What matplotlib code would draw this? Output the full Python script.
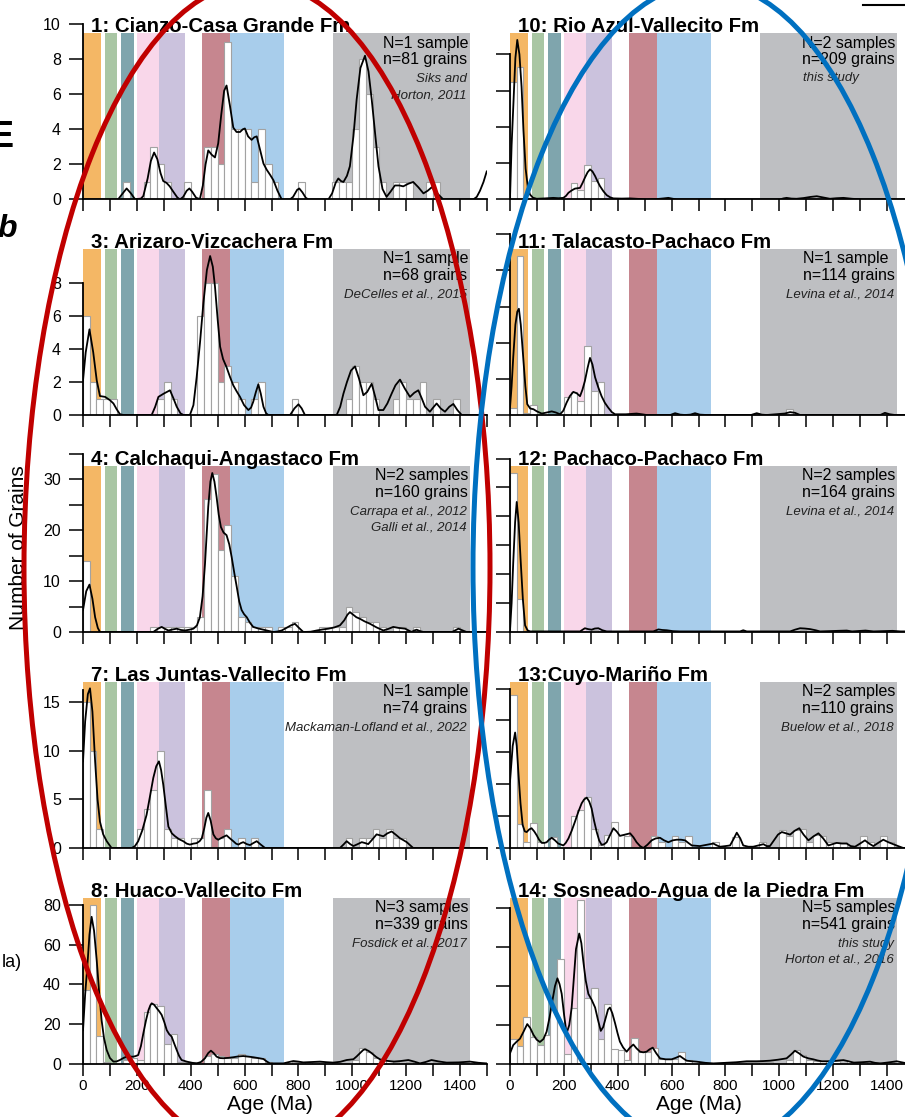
import matplotlib
matplotlib.use("Agg")
import matplotlib.pyplot as plt
from matplotlib.patches import Ellipse

plt.rcParams["font.family"] = ["Liberation Sans", "DejaVu Sans"]

W, H = 905, 1117

# shaded age provinces (Ma)
band_ranges = [(0, 66), (80, 128), (142, 190), (202, 283), (283, 380),
               (442, 546), (546, 745), (930, 1438)]
band_colors = ["#f4b765", "#a9c6a4", "#7fa5ad", "#f9d7ea", "#cbc2dd",
               "#c6868f", "#a8cdeb", "#bebfc2"]

# histograms: (bin start Ma, count), 25 Ma bins
hist_1 = [(150, 1), (225, 1), (250, 3), (275, 2), (300, 1), (375, 1), (450, 3), (475, 3),
          (500, 2), (525, 9), (550, 4), (575, 4), (600, 4), (625, 1), (650, 4), (675, 2),
          (700, 1), (800, 1), (925, 1), (950, 1), (975, 1), (1000, 4), (1025, 8), (1050, 6),
          (1075, 3), (1100, 1), (1150, 1), (1175, 1), (1200, 1), (1275, 1), (1300, 1)]
hist_3 = [(0, 6), (25, 2), (50, 1), (75, 1), (100, 1), (275, 1), (300, 2), (325, 1),
          (425, 6), (450, 8), (475, 8), (500, 2), (525, 3), (550, 2), (575, 1), (625, 1),
          (650, 2), (775, 1), (975, 1), (1000, 3), (1025, 2), (1050, 2), (1075, 1), (1150, 1),
          (1175, 2), (1200, 1), (1225, 1), (1250, 2), (1300, 1), (1375, 1)]
hist_4 = [(0, 14), (250, 1), (275, 1), (300, 1), (325, 1), (350, 1), (375, 1), (400, 1),
          (425, 3), (450, 26), (475, 31), (500, 16), (525, 21), (550, 11), (575, 3), (600, 2),
          (625, 1), (650, 1), (675, 1), (725, 1), (750, 1), (775, 2), (875, 1), (900, 1),
          (925, 1), (950, 1), (975, 5), (1000, 4), (1025, 3), (1050, 2), (1075, 2), (1100, 1),
          (1150, 1), (1175, 1), (1225, 1), (1375, 1)]
hist_7 = [(0, 15), (25, 10), (50, 2), (200, 2), (225, 4), (250, 6), (275, 10), (300, 2),
          (325, 1), (350, 1), (400, 1), (425, 1), (450, 6), (500, 1), (525, 2), (575, 1),
          (625, 1), (975, 1), (1025, 1), (1050, 1), (1075, 2), (1100, 1), (1125, 2),
          (1150, 1), (1175, 1)]
hist_8 = [(0, 37), (25, 80), (50, 14), (75, 1), (150, 2), (175, 3), (200, 2), (225, 26),
          (250, 30), (275, 29), (300, 10), (325, 15), (350, 1), (375, 1), (400, 1), (450, 4),
          (475, 5), (500, 4), (525, 3), (550, 3), (575, 5), (600, 4), (625, 3), (650, 3),
          (675, 1), (775, 1), (800, 1), (825, 1), (850, 1), (875, 1), (900, 1), (1000, 2),
          (1025, 8), (1050, 6), (1075, 3), (1100, 2), (1125, 2), (1150, 1), (1200, 1),
          (1300, 1), (1375, 1), (1450, 1)]
hist_10 = [(0, 65), (25, 73), (50, 1), (225, 9), (250, 5), (275, 19), (300, 10), (325, 12)]
hist_11 = [(0, 0.9), (25, 22), (50, 0.3), (75, 1.4), (200, 2.5), (225, 3.2), (250, 1.9),
           (275, 9.5), (300, 3.3), (325, 4.5), (1025, 0.8)]
hist_12 = [(0, 55), (25, 11.5), (50, 0.3), (275, 0.5), (300, 0.6), (325, 0.5), (500, 0.3),
           (550, 0.3), (1050, 0.5), (1075, 0.6), (1100, 0.4)]
hist_13 = [(0, 24), (25, 3.8), (50, 0.9), (75, 3.9), (100, 0.9), (150, 1.8), (225, 5),
           (250, 6), (275, 8), (300, 3), (325, 0.4), (350, 2), (375, 4.1), (400, 2),
           (425, 1.9), (525, 1.9), (550, 0.9), (600, 1.9), (625, 0.9), (650, 1.9), (750, 0.9),
           (825, 1.7), (925, 0.9), (1000, 2.9), (1025, 1.9), (1050, 2.8), (1075, 3),
           (1100, 0.9), (1125, 2), (1150, 1.9), (1175, 0.9), (1200, 0.9), (1225, 0.9),
           (1300, 1.9), (1325, 0.9), (1375, 1.9), (1400, 0.9)]
hist_14 = [(0, 13), (25, 9), (50, 24), (75, 14), (100, 10), (125, 15), (150, 29), (175, 54),
           (200, 5), (225, 29), (250, 84), (275, 34), (300, 39), (325, 13), (350, 31),
           (375, 7.5), (400, 7), (425, 2), (450, 13.5), (475, 6), (500, 6), (525, 8),
           (550, 2.4), (575, 2.4), (600, 2.4), (625, 6), (650, 2), (675, 1.5), (700, 0.7),
           (725, 0.7), (750, 0.7), (800, 1), (825, 1), (850, 1), (875, 1), (900, 1), (925, 1),
           (950, 1), (1025, 2), (1050, 7), (1075, 4.6), (1100, 2), (1125, 1.5), (1150, 1.5),
           (1175, 1.5), (1200, 1.5), (1250, 1.5), (1300, 1), (1350, 1), (1400, 1), (1450, 1)]

# density curves: (age Ma, value)
kde_1 = [(0, 0), (125, 0), (131, 0.02), (145, 0.3), (162, 0.63), (178, 0.35), (193, 0.02),
         (215, 0.05), (224, 0.2), (240, 1.2), (252, 2.2), (264, 2.68), (276, 2.3), (288, 1.5),
         (298, 1.05), (310, 0.95), (322, 0.75), (335, 0.45), (350, 0.12), (360, 0), (372, 0.15),
         (385, 0.5), (395, 0.63), (405, 0.45), (420, 0.1), (434, 0.02), (445, 0.8), (455, 2.0),
         (465, 2.8), (478, 2.55), (490, 2.4), (502, 3.2), (513, 4.8), (524, 6.2), (533, 6.5),
         (545, 5.4), (558, 4.1), (570, 3.85), (583, 3.85), (593, 4.0), (601, 4.05), (613, 3.6),
         (626, 3.4), (636, 3.55), (645, 3.6), (658, 2.8), (670, 2.05), (682, 1.7), (695, 1.4),
         (707, 1.1), (722, 0.5), (738, 0), (768, 0), (780, 0.15), (795, 0.55), (803, 0.63),
         (815, 0.4), (827, 0.1), (837, 0), (911, 0), (925, 0.35), (938, 0.95), (948, 1.2),
         (958, 1.05), (967, 1.0), (980, 1.35), (991, 1.9), (1004, 3.6), (1016, 5.7),
         (1030, 7.5), (1047, 8.2), (1060, 7.3), (1072, 5.7), (1085, 3.7), (1097, 1.9),
         (1112, 0.6), (1127, 0.15), (1142, 0.45), (1158, 0.8), (1175, 0.8), (1189, 0.75),
         (1208, 0.9), (1226, 1.0), (1245, 0.7), (1264, 0.35), (1280, 0.5), (1295, 0.7),
         (1315, 0.35), (1338, 0), (1449, 0), (1462, 0.15), (1474, 0.5), (1487, 1.0), (1499, 1.6)]
kde_3 = [(0, 2.1), (10, 3.8), (24, 5.2), (38, 3.8), (51, 2.1), (63, 1.15), (82, 1.1),
         (100, 0.9), (113, 0.7), (125, 0.35), (137, 0.05), (150, 0), (255, 0), (268, 0.5),
         (280, 1.1), (300, 1.3), (323, 1.5), (336, 1.0), (348, 0.5), (362, 0.1), (373, 0),
         (397, 0), (410, 0.6), (422, 2.3), (435, 4.5), (447, 6.8), (460, 8.8), (472, 9.65),
         (482, 9.0), (490, 7.8), (500, 5.8), (509, 4.15), (520, 3.4), (533, 2.9), (546, 2.3),
         (558, 1.8), (570, 1.45), (583, 1.1), (598, 0.6), (614, 0.3), (624, 0.45), (632, 0.8),
         (642, 1.4), (651, 1.86), (660, 1.3), (670, 0.5), (680, 0.1), (688, 0), (769, 0),
         (785, 0.4), (800, 0.65), (812, 0.4), (824, 0), (942, 0), (955, 0.5), (967, 1.3),
         (980, 2.0), (995, 2.7), (1010, 2.95), (1025, 2.2), (1041, 1.2), (1055, 1.4),
         (1072, 1.9), (1085, 1.1), (1097, 0.3), (1115, 0.3), (1130, 0.7), (1146, 1.3),
         (1160, 1.8), (1177, 2.15), (1195, 1.6), (1214, 1.1), (1230, 1.35), (1245, 1.5),
         (1258, 1.0), (1270, 0.5), (1288, 0.2), (1300, 0.45), (1313, 0.7), (1328, 0.4),
         (1344, 0.2), (1360, 0.5), (1375, 0.67), (1390, 0.3), (1406, 0), (1500, 0)]
kde_4 = [(0, 4.3), (12, 8.0), (24, 9.3), (35, 6.5), (45, 2.9), (55, 0.8), (63, 0), (261, 0),
         (277, 0.6), (292, 1.0), (305, 0.6), (317, 0.3), (333, 0.5), (348, 0.65), (363, 0.4),
         (379, 0.3), (395, 0.45), (410, 0.65), (423, 1.3), (434, 2.9), (444, 7.0), (453, 13.4),
         (465, 24.6), (473, 29.5), (480, 31.2), (488, 29.5), (496, 26.5), (504, 23.0),
         (512, 20.6), (522, 19.5), (533, 19.0), (543, 17.2), (552, 14.7), (562, 11.5),
         (571, 8.8), (580, 6.0), (589, 4.3), (598, 3.5), (608, 2.9), (620, 1.8), (632, 1.0),
         (650, 0.7), (670, 0.45), (690, 0.2), (707, 0), (722, 0.1), (738, 0.3), (755, 0.8),
         (772, 1.3), (787, 1.6), (802, 0.8), (818, 0), (845, 0.05), (868, 0.3), (890, 0.5),
         (911, 0.65), (933, 0.9), (954, 1.3), (970, 2.3), (982, 3.4), (991, 3.9), (1003, 3.4),
         (1015, 2.9), (1028, 2.6), (1045, 2.1), (1066, 1.6), (1090, 0.9), (1115, 0.3),
         (1133, 0.6), (1152, 1.0), (1172, 0.8), (1196, 0.65), (1220, 0), (1230, 0.3),
         (1239, 0.45), (1250, 0.2), (1264, 0), (1370, 0), (1383, 0.35), (1394, 0.65),
         (1410, 0.3), (1424, 0), (1500, 0)]
kde_7 = [(0, 8.9), (8, 13.0), (18, 15.8), (26, 16.4), (35, 14.0), (45, 8.9), (54, 5.0),
         (63, 2.7), (75, 1.4), (88, 0.7), (106, 0), (181, 0), (193, 0.2), (205, 0.7),
         (220, 1.8), (236, 3.4), (248, 5.2), (261, 7.2), (272, 8.4), (282, 8.9), (290, 8.0),
         (298, 6.5), (308, 4.2), (317, 2.2), (330, 1.5), (342, 1.2), (357, 0.9), (372, 0.7),
         (385, 0.45), (397, 0.35), (410, 0.45), (422, 0.5), (433, 0.7), (441, 1.0), (450, 2.0),
         (458, 3.1), (465, 3.6), (474, 2.8), (484, 1.4), (493, 1.0), (502, 0.85), (518, 1.1),
         (533, 1.3), (545, 1.0), (558, 0.7), (568, 0.45), (577, 0.35), (586, 0.5), (595, 0.6),
         (608, 0.4), (620, 0.3), (632, 0.5), (645, 0.7), (660, 0.35), (676, 0), (954, 0),
         (967, 0.35), (979, 0.7), (992, 0.4), (1004, 0.2), (1020, 0.4), (1035, 0.6),
         (1048, 0.5), (1059, 0.4), (1075, 0.9), (1090, 1.4), (1103, 1.3), (1115, 1.2),
         (1130, 1.5), (1146, 1.7), (1162, 1.35), (1177, 1.0), (1190, 0.8), (1202, 0.6),
         (1214, 0.3), (1226, 0), (1500, 0)]
kde_8 = [(0, 17), (8, 35), (16, 49), (24, 65), (32, 74), (41, 67), (51, 52), (60, 36),
         (69, 22), (78, 13), (88, 7), (100, 3), (113, 1.2), (125, 1.3), (137, 2), (150, 3),
         (162, 3.7), (175, 3.7), (187, 3.7), (196, 4), (205, 4.5), (215, 9), (224, 15.4),
         (234, 22), (243, 27), (250, 29.5), (255, 30.5), (264, 29.8), (274, 28), (283, 26.5),
         (292, 24.7), (302, 21), (311, 17), (320, 15), (329, 13.8), (338, 10.5), (348, 7),
         (357, 4), (366, 2), (385, 1.2), (405, 0.6), (422, 0.3), (438, 1.0), (453, 2.9),
         (465, 5.5), (475, 6.7), (485, 5.5), (496, 3.7), (508, 3.0), (521, 2.9), (540, 3.1),
         (558, 3.4), (576, 3.8), (595, 4.0), (614, 3.7), (632, 3.4), (650, 3.0), (670, 2.5),
         (682, 1.3), (694, 0.3), (744, 0.3), (762, 0.9), (781, 1.5), (800, 1.2), (818, 0.8),
         (850, 1.0), (880, 1.2), (905, 0.9), (929, 0.7), (955, 1.1), (979, 2.0), (1004, 2.4),
         (1016, 3.8), (1028, 5.4), (1040, 7.0), (1047, 7.4), (1060, 6.6), (1072, 5.4),
         (1088, 3.6), (1103, 2.3), (1128, 1.6), (1152, 1.2), (1180, 1.5), (1208, 2.0),
         (1230, 1.2), (1251, 0.3), (1272, 1.0), (1294, 2.0), (1320, 1.3), (1350, 0.7),
         (1395, 0.8), (1437, 1.2), (1468, 0.6), (1499, 0.3)]
kde_10 = [(0, 1), (6, 30), (13, 54), (20, 78), (27, 88), (35, 80), (43, 62), (50, 38),
          (58, 17), (66, 7), (74, 2.8), (85, 1), (99, 0.4), (130, 0.6), (161, 0.9), (180, 0.7),
          (198, 0.9), (208, 2), (217, 3.7), (229, 5), (241, 6), (250, 6.2), (260, 6.4),
          (269, 9), (278, 12), (288, 15), (297, 16.6), (306, 15.5), (316, 12.9), (325, 10),
          (334, 7.4), (347, 4.5), (359, 2.4), (372, 1.2), (384, 0.6), (415, 0.5), (446, 0.6),
          (480, 0.3), (507, 0), (550, 0.3), (570, 0.6), (588, 0.9), (605, 0.4), (619, 0),
          (1002, 0), (1015, 0.6), (1027, 0.9), (1045, 0.5), (1064, 0.4), (1090, 0.8),
          (1115, 1.4), (1139, 1.8), (1160, 1.2), (1188, 0.4), (1212, 0.7), (1238, 0.9),
          (1270, 0.4), (1312, 0), (1500, 0)]
kde_11 = [(0, 1), (6, 4), (12, 8), (20, 12.5), (27, 14.3), (33, 14.7), (40, 12.5), (50, 7.5),
          (57, 4), (64, 1.5), (75, 0.9), (87, 0.8), (100, 0.5), (118, 0.2), (137, 0.35),
          (155, 0.5), (170, 0.35), (186, 0.1), (198, 0.6), (210, 1.7), (222, 2.6), (235, 3.2),
          (248, 3.0), (260, 2.6), (269, 3.5), (278, 4.7), (288, 6.5), (297, 7.9), (306, 7.0),
          (316, 5.2), (328, 3.8), (340, 2.6), (352, 1.7), (365, 1.0), (378, 0.4), (390, 0.1),
          (430, 0.1), (470, 0.2), (490, 0.1), (507, 0), (595, 0), (613, 0.25), (632, 0.05),
          (650, 0), (670, 0.05), (687, 0.25), (705, 0.05), (730, 0), (895, 0), (916, 0.25),
          (935, 0.05), (953, 0), (1020, 0.2), (1040, 0.4), (1058, 0.3), (1077, 0), (1375, 0),
          (1392, 0.3), (1410, 0.1), (1429, 0), (1500, 0)]
kde_12 = [(0, 0.6), (6, 10), (12, 24), (19, 38), (25, 45), (32, 38), (40, 24), (48, 11),
          (56, 2.3), (65, 0.6), (74, 0.2), (260, 0.2), (278, 1.3), (290, 1.0), (303, 0.8),
          (315, 1.2), (328, 1.3), (343, 0.6), (359, 0.2), (532, 0.2), (551, 0.9), (565, 0.7),
          (582, 0.6), (605, 0.3), (631, 0.2), (854, 0.2), (866, 0.6), (879, 0.2), (1040, 0.2),
          (1058, 0.8), (1077, 1.3), (1095, 1.2), (1114, 1.0), (1135, 0.6), (1151, 0.2),
          (1250, 0.5), (1270, 0.2), (1320, 0.5), (1350, 0.2), (1420, 0.4), (1450, 0.2),
          (1500, 0.2)]
kde_13 = [(0, 10.4), (10, 16), (19, 18.1), (25, 16), (31, 11.9), (39, 7), (47, 3.6), (55, 2.6),
          (62, 2.5), (71, 2.9), (80, 3.1), (90, 2.6), (99, 2.0), (108, 1.3), (118, 0.8),
          (127, 0.8), (136, 0.9), (145, 1.3), (155, 1.6), (167, 1.2), (179, 0.7), (198, 0.4),
          (207, 0.8), (217, 1.5), (229, 2.7), (241, 4.1), (254, 5.7), (266, 7.0), (275, 7.6),
          (285, 7.9), (294, 7.3), (303, 6.2), (312, 4.3), (322, 2.5), (331, 1.2), (340, 0.5),
          (350, 0.6), (359, 0.9), (371, 2.0), (384, 3.1), (396, 2.6), (408, 1.9), (427, 2.1),
          (446, 2.3), (458, 1.7), (470, 0.9), (483, 0.3), (495, 0), (510, 0.5), (526, 1.2),
          (541, 1.5), (557, 1.6), (572, 1.2), (588, 0.9), (604, 1.2), (619, 1.3), (635, 1.3),
          (650, 1.2), (662, 0.8), (675, 0.4), (705, 0.3), (730, 0.5), (755, 0.7), (768, 0.4),
          (780, 0.2), (800, 0.3), (817, 0.4), (830, 1.4), (842, 2.4), (855, 1.5), (866, 0.4),
          (885, 0.2), (903, 0.2), (922, 0.4), (941, 0.6), (953, 0.3), (965, 0.3), (980, 1.2),
          (995, 2.1), (1009, 2.5), (1025, 2.3), (1040, 2.1), (1057, 2.7), (1074, 3.1),
          (1090, 2.1), (1108, 1.2), (1126, 1.8), (1145, 2.3), (1163, 1.5), (1182, 0.4),
          (1197, 0.6), (1213, 0.8), (1232, 0.7), (1250, 0.7), (1265, 0.3), (1281, 0.2),
          (1300, 0.7), (1318, 1.2), (1333, 0.7), (1349, 0.3), (1367, 0.8), (1386, 1.3),
          (1405, 0.9), (1423, 0.6), (1441, 0.3), (1460, 0), (1500, 0)]
kde_14 = [(0, 5.5), (12, 9.7), (25, 11.5), (37, 13), (50, 16.5), (64, 20.5), (75, 18.5),
          (87, 15), (99, 12.5), (111, 11.3), (124, 12.8), (136, 16.6), (147, 24), (158, 33),
          (167, 40), (176, 44), (184, 41), (192, 36), (201, 25), (210, 15.7), (220, 20),
          (229, 29), (237, 44), (245, 59), (257, 67), (265, 62), (272, 53), (281, 43),
          (291, 36), (303, 33), (316, 29), (326, 23), (337, 17), (346, 19), (356, 24),
          (364, 28), (371, 29), (380, 26), (390, 21), (399, 16), (408, 11.5), (420, 8.5),
          (433, 6.3), (446, 8.5), (458, 10), (470, 8), (483, 6.3), (495, 6), (507, 6.3),
          (518, 7.5), (530, 8.4), (543, 5.5), (557, 2.9), (578, 2.4), (600, 2.4), (616, 3.2),
          (631, 4.1), (644, 2.8), (656, 1.7), (675, 1.4), (693, 1.2), (725, 0.6), (755, 0.3),
          (800, 0.6), (840, 0.9), (879, 1.4), (916, 1.4), (940, 1.5), (965, 1.7), (995, 2.2),
          (1027, 2.9), (1042, 4.7), (1058, 6.8), (1073, 5.5), (1089, 3.8), (1108, 2.9),
          (1126, 2.4), (1142, 1.8), (1158, 1.4), (1180, 1.4), (1201, 1.5), (1220, 1.8),
          (1238, 2.0), (1257, 1.4), (1275, 0.7), (1305, 0.9), (1337, 1.2), (1355, 0.6),
          (1374, 0.3), (1405, 0.8), (1436, 1.4), (1467, 0.5), (1500, 0.5)]

titles_left = ["1: Cianzo-Casa Grande Fm", "3: Arizaro-Vizcachera Fm",
               "4: Calchaqui-Angastaco Fm", "7: Las Juntas-Vallecito Fm",
               "8: Huaco-Vallecito Fm"]
titles_right = ["10: Rio Azul-Vallecito Fm", "11: Talacasto-Pachaco Fm",
                "12: Pachaco-Pachaco Fm", "13:Cuyo-Mariño Fm",
                "14: Sosneado-Agua de la Piedra Fm"]
counts_left = ["N=1 sample\nn=81 grains", "N=1 sample\nn=68 grains",
               "N=2 samples\nn=160 grains", "N=1 sample\nn=74 grains",
               "N=3 samples\nn=339 grains"]
counts_right = ["N=2 samples\nn=209 grains", "N=1 sample\nn=114 grains",
                "N=2 samples\nn=164 grains", "N=2 samples\nn=110 grains",
                "N=5 samples\nn=541 grains"]
refs_left = ["Siks and\nHorton, 2011", "DeCelles et al., 2015",
             "Carrapa et al., 2012\nGalli et al., 2014", "Mackaman-Lofland et al., 2022",
             "Fosdick et al., 2017"]
refs_right = ["this study", "Levina et al., 2014", "Levina et al., 2014",
              "Buelow et al., 2018", "this study\nHorton et al., 2016"]

hists_left = [hist_1, hist_3, hist_4, hist_7, hist_8]
hists_right = [hist_10, hist_11, hist_12, hist_13, hist_14]
kdes_left = [kde_1, kde_3, kde_4, kde_7, kde_8]
kdes_right = [kde_10, kde_11, kde_12, kde_13, kde_14]

# y axis setup per panel: (ylim top, tick step, last tick, label step)
yaxis_left = [(10.55, 2, 10, 2), (11.23, 2, 8, 2), (36.3, 5, 35, 10),
              (19.0, 5, 15, 5), (93, 20, 80, 20)]
ybound_left = [10, 8, 35, 16.2, 80]
yaxis_right = [(102, 20, 80, 20), (25.6, 5, 25, 5), (64, 10, 60, 10),
               (29, 5, 25, 5), (95, 20, 80, 20)]

# layout in pixels
row_bottoms = [199.5, 415, 632, 848, 1064]
AX_H = 185
AX_W = 404
col_left = [83, 510]
BAND_TOP = 166 / AX_H


def fig_rect(x_px, bottom_px):
    return [x_px / W, 1 - bottom_px / H, AX_W / W, AX_H / H]


def draw_panel(ax, title, hist, kde, counts, refs, yax, ybound, show_ylabels,
               show_xlabels, ref_left=False):
    for (lo, hi), c in zip(band_ranges, band_colors):
        ax.axvspan(lo, hi, ymin=0, ymax=BAND_TOP, color=c, lw=0, zorder=0)
    ax.bar([h[0] for h in hist], [h[1] for h in hist], width=25, align="edge",
           color="white", edgecolor="#a2a2a2", linewidth=0.8, zorder=1)
    ax.plot([k[0] for k in kde], [k[1] for k in kde], color="black", lw=1.3, zorder=3)

    top, step, last, lab = yax
    ax.set_xlim(0, 1500)
    ax.set_ylim(0, top)
    for s in ["top", "right"]:
        ax.spines[s].set_visible(False)
    ax.spines["left"].set_bounds(0, ybound)
    ax.spines["left"].set_linewidth(1.3)
    ax.spines["bottom"].set_linewidth(1.3)

    yt = list(range(0, last + 1, step))
    ax.set_yticks(yt)
    if show_ylabels:
        ax.set_yticklabels([str(t) if t % lab == 0 else "" for t in yt])
    else:
        ax.set_yticklabels([])
    xt = list(range(0, 1501, 100))
    ax.set_xticks(xt)
    if show_xlabels:
        ax.set_xticklabels([str(t) if t % 200 == 0 else "" for t in xt])
    else:
        ax.set_xticklabels([])
    ax.tick_params(axis="y", direction="out", length=10, width=1.1, pad=6, labelsize=11.5)
    ax.tick_params(axis="x", direction="out", length=8.5, width=1.1, pad=2, labelsize=11)

    ax.annotate(title, xy=(0, BAND_TOP), xycoords="axes fraction", xytext=(5.5, 0.8),
                textcoords="offset points", fontsize=14.7, fontweight="bold",
                ha="left", va="baseline", zorder=5, annotation_clip=False)
    ax.annotate(counts, xy=(1430, BAND_TOP), xycoords=("data", "axes fraction"),
                xytext=(0, -1.5), textcoords="offset points", fontsize=11.5,
                ha="right", va="top", ma="left", linespacing=1.15, zorder=5)
    if ref_left:
        ax.annotate(refs, xy=(1089, BAND_TOP), xycoords=("data", "axes fraction"),
                    xytext=(0, -27.5), textcoords="offset points", fontsize=9.5,
                    style="italic", color="#222222", ha="left", va="top", zorder=5)
    else:
        ax.annotate(refs, xy=(1425, BAND_TOP), xycoords=("data", "axes fraction"),
                    xytext=(0, -28.5), textcoords="offset points", fontsize=9.5,
                    style="italic", color="#222222", ha="right", va="top", ma="right",
                    linespacing=1.45, zorder=5)


fig = plt.figure(figsize=(W / 100, H / 100), dpi=100)

for i in range(5):
    last_row = i == 4
    ax = fig.add_axes(fig_rect(col_left[0], row_bottoms[i]))
    draw_panel(ax, titles_left[i], hists_left[i], kdes_left[i], counts_left[i],
               refs_left[i], yaxis_left[i], ybound_left[i], True, last_row)
    ax = fig.add_axes(fig_rect(col_left[1], row_bottoms[i]))
    draw_panel(ax, titles_right[i], hists_right[i], kdes_right[i], counts_right[i],
               refs_right[i], yaxis_right[i], yaxis_right[i][2], False, last_row,
               ref_left=(i == 0))

fig.text(270 / W, 1 - 1105 / H, "Age (Ma)", fontsize=15, ha="center", va="center")
fig.text(699 / W, 1 - 1105 / H, "Age (Ma)", fontsize=15, ha="center", va="center")
fig.text(19 / W, 1 - 548 / H, "Number of Grains", fontsize=15, rotation=90,
         ha="center", va="center")
fig.text(14 / W, 1 - 147 / H, "E", fontsize=26, fontweight="bold", ha="right", va="baseline")
fig.text(17 / W, 1 - 237 / H, "b", fontsize=23, fontweight="bold", style="italic",
         ha="right", va="baseline")
fig.text(22 / W, 1 - 967 / H, "la)", fontsize=13, ha="right", va="baseline")

# hand-drawn highlight ellipses on top
over = fig.add_axes([0, 0, 1, 1], zorder=10)
over.set_xlim(0, W)
over.set_ylim(H, 0)
over.axis("off")
over.patch.set_alpha(0)
over.add_patch(Ellipse((257, 568), 466, 1172, fill=False, edgecolor="#c00000", lw=3.6))
over.add_patch(Ellipse((707, 567), 468, 1168, fill=False, edgecolor="#0070c0", lw=3.6))
over.plot([863, 905], [5, 5], color="black", lw=1.5)

fig.savefig("out.png", dpi=100)
